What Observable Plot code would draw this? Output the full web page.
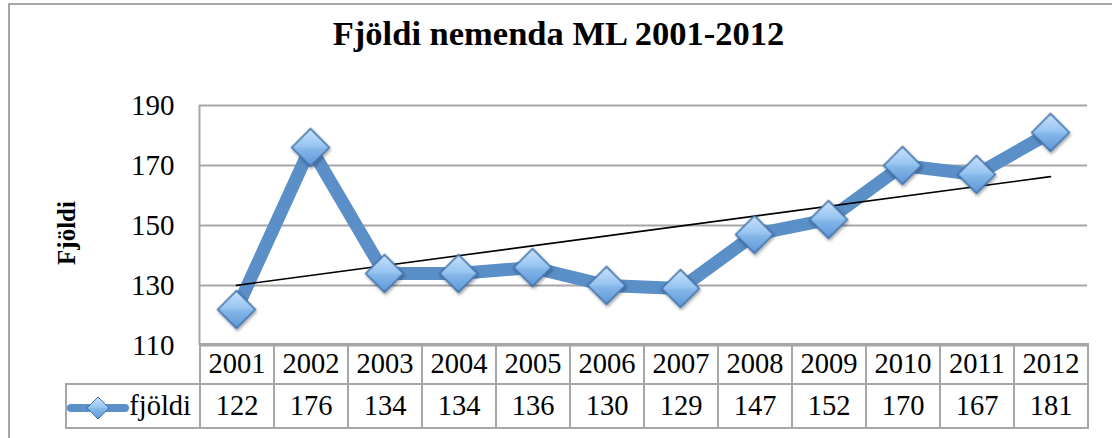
<!DOCTYPE html>
<html>
<head>
<meta charset="utf-8">
<script src="https://cdn.jsdelivr.net/npm/d3@7"></script>
<script src="https://cdn.jsdelivr.net/npm/@observablehq/plot@0.6"></script>
<style>
  html, body { margin: 0; padding: 0; background: #fff; }
  #wrap { position: relative; width: 1112px; height: 438px; overflow: hidden; background: #fff; }
  #frame { position: absolute; left: 8px; top: 3px; width: 1200px; height: 500px; border: 2px solid #a6a6a6; box-sizing: border-box; }
  #title { position: absolute; left: 0; top: 14px; width: 1117px; text-align: center;
           font-family: "Liberation Serif", serif; font-weight: bold; font-size: 34.5px; color: #000; }
  #ylabel { position: absolute; left: 67px; top: 233px; transform: translate(-50%, -50%) rotate(-90deg);
            font-family: "Liberation Serif", serif; font-weight: bold; font-size: 25px; white-space: nowrap; }
  #plot { position: absolute; left: 0; top: 0; }
  #table { position: absolute; left: 65px; top: 343px; border-collapse: collapse; table-layout: fixed; width: 1024px;
           font-family: "Liberation Serif", serif; font-size: 28.5px; }
  #table td { border: 2px solid #a6a6a6; text-align: center; padding: 0; height: 38px; overflow: visible; white-space: nowrap; }
  #table td.lab { text-align: right; padding-right: 8px; }
  #table td.empty { border: none; border-right: 2px solid #a6a6a6; }
  #table tr.vals td { height: 42px; }
</style>
</head>
<body>
<div id="wrap">
  <div id="frame"></div>
  <div id="title"></div>
  <div id="ylabel"></div>
  <div id="plot"></div>
  <table id="table"></table>
</div>
<script>
const title = "Fjöldi nemenda ML 2001-2012";
const yLabel = "Fjöldi";
const seriesName = "fjöldi";
const years = [2001, 2002, 2003, 2004, 2005, 2006, 2007, 2008, 2009, 2010, 2011, 2012];
const values = [122, 176, 134, 134, 136, 130, 129, 147, 152, 170, 167, 181];
const yTicks = [110, 130, 150, 170, 190];

const data = years.map((year, i) => ({year, value: values[i]}));

document.getElementById("title").textContent = title;
document.getElementById("ylabel").textContent = yLabel;

const lineColor = "#5b8fc8";

const chart = Plot.plot({
  width: 1112,
  height: 346,
  marginLeft: 199,
  marginRight: 25,
  marginTop: 105,
  marginBottom: 1,
  x: {type: "linear", domain: [years[0] - 0.5, years[years.length - 1] + 0.5], axis: null},
  y: {domain: [110, 190], ticks: yTicks},
  style: {fontFamily: "Liberation Serif, serif", background: "transparent", overflow: "visible"},
  marks: [
    Plot.ruleY(yTicks, {stroke: "#a6a6a6", strokeWidth: 2, strokeOpacity: 1}),
    Plot.ruleX([years[0] - 0.5], {stroke: "#a6a6a6", strokeWidth: 2}),
    Plot.axisY({ticks: yTicks, tickSize: 0, tickPadding: 25, fontSize: 29, label: null, fill: "#000"}),
    Plot.line(data, {x: "year", y: "value", stroke: lineColor, strokeWidth: 13, strokeLinejoin: "miter", strokeLinecap: "butt"}),
    Plot.linearRegressionY(data, {x: "year", y: "value", ci: 0, stroke: "#000", strokeWidth: 1.6}),
    Plot.dot(data, {x: "year", y: "value", symbol: "diamond2", r: 17, fill: "url(#dgrad)", stroke: "#3f6fa6", strokeWidth: 1.5, fillOpacity: 1})
  ]
});

// gradient definition + shadow for diamond markers
const svg = d3.select(chart);
const defs = svg.insert("defs", ":first-child");
const g = defs.append("linearGradient").attr("id", "dgrad").attr("x1", 0).attr("y1", 0).attr("x2", 0).attr("y2", 1);
g.append("stop").attr("offset", "0%").attr("stop-color", "#c9e2fb");
g.append("stop").attr("offset", "48%").attr("stop-color", "#95c4f1");
g.append("stop").attr("offset", "52%").attr("stop-color", "#86b8ea");
g.append("stop").attr("offset", "100%").attr("stop-color", "#5d97d6");
const f = defs.append("filter").attr("id", "dshadow").attr("x", "-50%").attr("y", "-50%").attr("width", "200%").attr("height", "200%");
f.append("feDropShadow").attr("dx", 1).attr("dy", 2).attr("stdDeviation", 1.5).attr("flood-color", "#000").attr("flood-opacity", 0.35);
svg.selectAll("g[aria-label='dot']").attr("filter", "url(#dshadow)");

document.getElementById("plot").appendChild(chart);

// data table
const table = d3.select("#table");
const cg = table.append("colgroup");
cg.append("col").style("width", "134px");
years.forEach(() => cg.append("col").style("width", "74px"));
const r1 = table.append("tr");
r1.append("td").attr("class", "empty");
years.forEach(y => r1.append("td").text(y));
const r2 = table.append("tr").attr("class", "vals");
const labCell = r2.append("td").attr("class", "lab");
const legSvg = labCell.append("svg").attr("width", 62).attr("height", 26).style("vertical-align", "middle");
legSvg.append("line").attr("x1", 4).attr("x2", 58).attr("y1", 13).attr("y2", 13).attr("stroke", lineColor).attr("stroke-width", 8).attr("stroke-linecap", "round");
legSvg.append("path").attr("d", "M31,2 L42,13 L31,24 L20,13 Z").attr("fill", "url(#dgrad)").attr("stroke", "#3f6fa6").attr("stroke-width", 1);
labCell.append("span").text(seriesName);
values.forEach(v => r2.append("td").text(v));
</script>
</body>
</html>
